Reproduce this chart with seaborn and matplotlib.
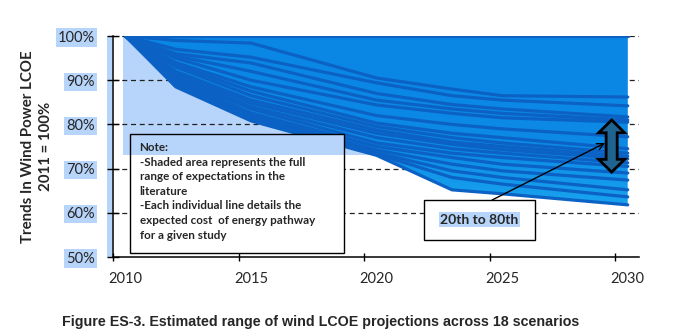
import numpy as np
import pandas as pd
import matplotlib
matplotlib.use("Agg")
import matplotlib.pyplot as plt
import seaborn as sns
from matplotlib.patches import Rectangle, Polygon
from matplotlib.colors import LinearSegmentedColormap
import matplotlib.transforms as mtransforms

# ---- data: LCOE index (2011 = 100%) for 18 scenarios ----
years = [2010, 2012, 2015, 2020, 2023, 2025, 2030]
s01 = [100, 100.0, 100.0, 100.0, 100.0, 100.0, 100.0]
s02 = [100, 99.0, 98.4, 90.5, 88.0, 86.5, 86.2]
s03 = [100, 97.0, 95.2, 89.4, 86.5, 85.5, 84.2]
s04 = [100, 96.0, 93.9, 87.0, 84.5, 83.5, 81.7]
s05 = [100, 95.5, 92.0, 85.5, 83.5, 82.5, 81.0]
s06 = [100, 95.0, 90.0, 84.4, 82.5, 81.5, 80.5]
s07 = [100, 94.0, 88.5, 82.0, 80.0, 79.0, 77.2]
s08 = [100, 93.5, 87.5, 80.3, 78.0, 77.0, 74.5]
s09 = [100, 93.0, 86.5, 79.5, 77.0, 75.8, 73.5]
s10 = [100, 92.0, 85.5, 78.7, 76.0, 75.0, 72.8]
s11 = [100, 91.5, 84.8, 78.0, 75.5, 74.3, 72.2]
s12 = [100, 91.0, 84.0, 77.0, 74.5, 73.5, 71.3]
s13 = [100, 90.5, 83.5, 75.8, 73.5, 72.5, 70.5]
s14 = [100, 90.0, 82.6, 75.0, 72.5, 71.0, 69.0]
s15 = [100, 89.5, 82.0, 74.2, 71.0, 69.5, 67.4]
s16 = [100, 89.0, 81.5, 73.6, 69.5, 68.0, 65.2]
s17 = [100, 88.8, 81.0, 73.3, 68.0, 66.5, 63.6]
s18 = [100, 88.5, 80.8, 73.0, 65.2, 64.3, 61.8]
scenarios = [s01, s02, s03, s04, s05, s06, s07, s08, s09,
             s10, s11, s12, s13, s14, s15, s16, s17, s18]

yticks = [50, 60, 70, 80, 90, 100]
ytick_labels = ["50%", "60%", "70%", "80%", "90%", "100%"]
xticks = [2010, 2015, 2020, 2025, 2030]
xtick_labels = ["2010", "2015", "2020", "2025", "2030"]

note_text = ("-Shaded area represents the full\nrange of expectations in the\n"
             "literature\n-Each individual line details the\n"
             "expected cost  of energy pathway\nfor a given study")

df = pd.DataFrame(
    [(f"S{i + 1}", y, v) for i, s in enumerate(scenarios) for y, v in zip(years, s)],
    columns=["scenario", "year", "lcoe"],
)

# ---- styling ----
sns.set_theme(style="white")
plt.rcParams["font.family"] = ["Lato", "DejaVu Sans"]

HILITE = "#b7d4fa"
LINE = "#0b62c4"

fig = plt.figure(figsize=(6.75, 3.36), dpi=100)
ax = fig.add_axes([0.1674, 0.2351, 0.7793, 0.6577])
ax.set_xlim(2009.5, 2030.45)
ax.set_ylim(50, 100)

# highlighted band behind the upper part of the chart
ax.add_patch(Rectangle((2009.9, 73.1), 20.1, 26.9, facecolor=HILITE,
                       edgecolor="none", zorder=0.2))
strip = mtransforms.blended_transform_factory(ax.transAxes, ax.transAxes)
ax.add_patch(Rectangle((-0.011, 0), 0.009, 1.0, transform=strip,
                       facecolor=HILITE, edgecolor="none", clip_on=False, zorder=0.2))

# dashed gridlines
for y in yticks[1:]:
    ax.axhline(y, color="#222222", lw=0.9, ls=(0, (4, 3)), zorder=0.5)

# envelope of all scenarios, shaded with a vertical gradient
vals = np.array(scenarios)
lo = vals.min(axis=0)
hi = vals.max(axis=0)
env = ax.fill_between(years, lo, hi, facecolor="none", edgecolor="none", zorder=1)
cmap = LinearSegmentedColormap.from_list(
    "env", [(0.0, "#1caaf0"), (0.25, "#18a2ee"), (0.5, "#0c8ae6"), (1.0, "#0a86e4")])
grad = np.linspace(0, 1, 256).reshape(-1, 1)
img = ax.imshow(grad, extent=[2010, 2030, 50, 100], origin="lower", cmap=cmap,
                aspect="auto", zorder=1, interpolation="bilinear")
img.set_clip_path(env.get_paths()[0], transform=ax.transData)

# individual scenario pathways
sns.lineplot(data=df, x="year", y="lcoe", units="scenario", estimator=None,
             color=LINE, lw=2.3, legend=False, ax=ax, zorder=2)

# axes, ticks
ax.set_xlim(2009.5, 2030.45)
ax.set_ylim(50, 100)
for side in ("top", "right"):
    ax.spines[side].set_visible(False)
for side in ("left", "bottom"):
    ax.spines[side].set_color("black")
    ax.spines[side].set_linewidth(1.1)
    ax.spines[side].set_zorder(3)

ax.set_yticks(yticks, ytick_labels)
ax.tick_params(axis="y", direction="inout", length=8, width=1.0, color="black",
               labelsize=10.5, pad=9, left=True)
for lbl in ax.get_yticklabels():
    lbl.set_bbox(dict(facecolor=HILITE, edgecolor="none", pad=1.5))

ax.set_xticks(xticks, xtick_labels)
ax.set_xticks([x - 0.5 for x in xticks], minor=True)
ax.tick_params(axis="x", which="major", length=0, labelsize=10.5, pad=11)
ax.tick_params(axis="x", which="minor", direction="inout", length=6, width=1.0,
               color="black", bottom=True)
ax.set_xlabel("")

ax.set_ylabel("Trends In Wind Power LCOE\n2011 = 100%", fontsize=10.8,
              fontweight="bold", linespacing=1.4, va="center", ha="center")
ax.yaxis.set_label_coords(-0.1445, 0.50)

# note box
ax.add_patch(Rectangle((2010.16, 50.9), 8.54, 26.9, facecolor="white",
                       edgecolor="none", zorder=4))
ax.add_patch(Rectangle((2010.16, 73.1), 8.54, 4.7, facecolor=HILITE,
                       edgecolor="none", zorder=4.1))
ax.add_patch(Rectangle((2010.16, 50.9), 8.54, 26.9, facecolor="none",
                       edgecolor="black", lw=1.0, zorder=4.2))
ax.text(2010.56, 74.7, "Note:", fontsize=8.4, fontweight="bold",
        va="center", ha="left", zorder=4.3)
ax.text(2010.56, 72.7, note_text, fontsize=8.4, fontweight="bold",
        va="top", ha="left", linespacing=1.40, zorder=4.3)

# 20th-80th percentile callout
ax.add_patch(Rectangle((2021.9, 53.8), 4.4, 9.1, facecolor="white",
                       edgecolor="black", lw=1.0, zorder=5))
ax.text(2024.1, 58.4, "20th to 80th", fontsize=10, fontweight="bold",
        ha="center", va="center", zorder=5.1,
        bbox=dict(facecolor=HILITE, edgecolor="none", pad=1.0))
ax.annotate("", xy=(2029.1, 75.8), xytext=(2024.6, 62.9),
            arrowprops=dict(arrowstyle="->", color="black", lw=1.0,
                            shrinkA=0, shrinkB=0), zorder=5)

# double-headed range arrow
xc, top, bot = 2029.36, 81.0, 69.2
bw, hw, hl = 0.22, 0.52, 2.9
shape = [(xc, top), (xc + hw, top - hl), (xc + bw, top - hl), (xc + bw, bot + hl),
         (xc + hw, bot + hl), (xc, bot), (xc - hw, bot + hl), (xc - bw, bot + hl),
         (xc - bw, top - hl), (xc - hw, top - hl)]
ax.add_patch(Polygon(shape, closed=True, facecolor="#1f6391", edgecolor="black",
                     lw=2.0, joinstyle="miter", zorder=6))

fig.text(0.4756, 0.0417,
         "Figure ES-3. Estimated range of wind LCOE projections across 18 scenarios",
         family="Liberation Sans", fontweight="bold", fontsize=10.3,
         ha="center", va="center")

fig.savefig("out.png", dpi=100)
